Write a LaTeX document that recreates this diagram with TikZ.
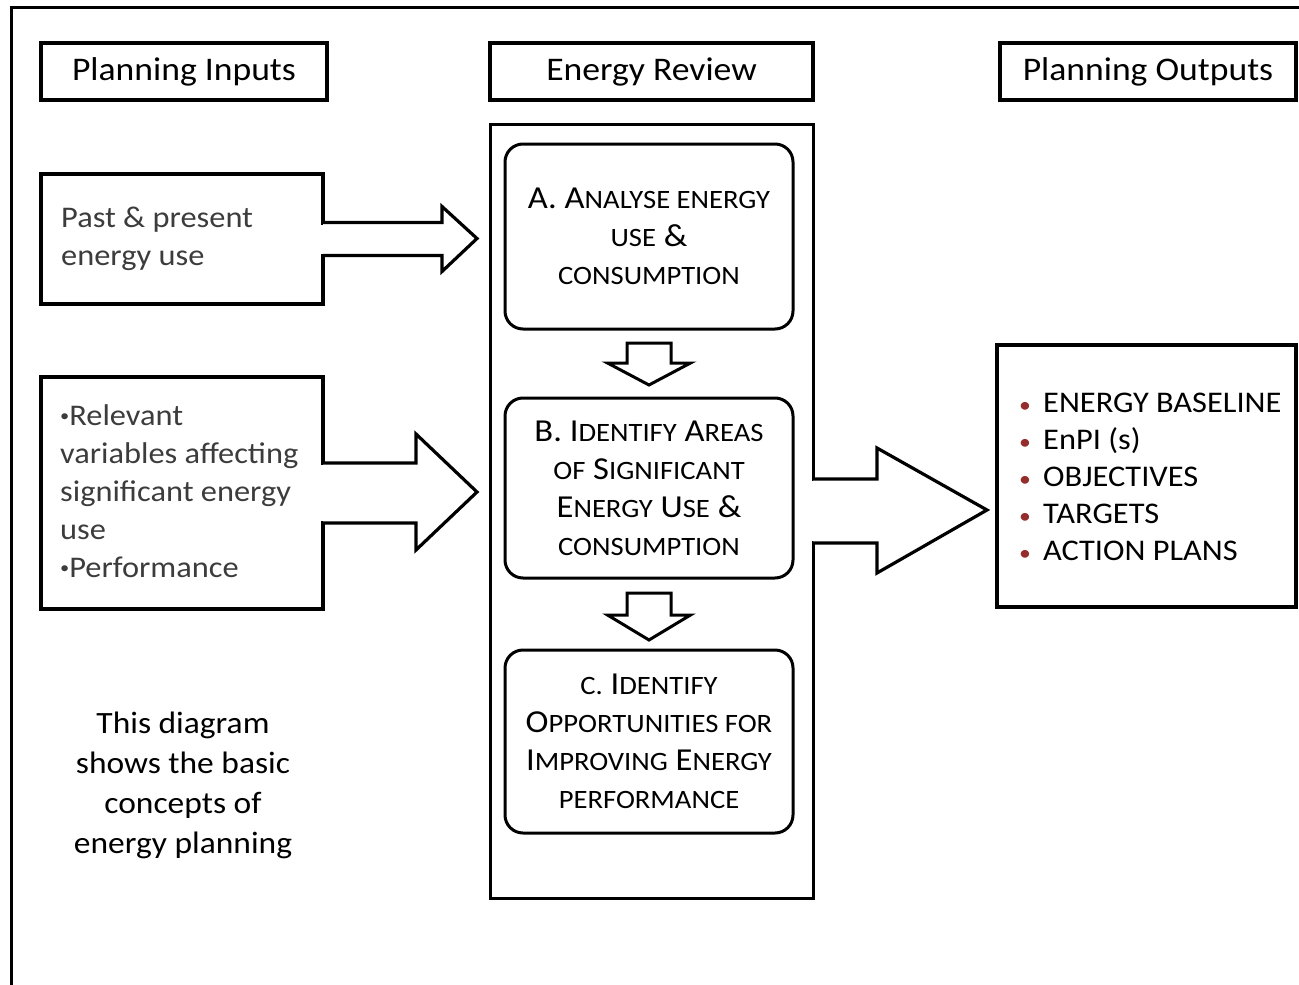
\documentclass[tikz,border=0pt]{standalone}
\usepackage{fontspec}
\setmainfont{Carlito}[FakeStretch=1.08]
\usetikzlibrary{calc}
\definecolor{intext}{RGB}{60,60,60}
\definecolor{bred}{RGB}{150,45,45}
\newcommand\smc[1]{{\fontsize{26.5}{38}\selectfont #1}}
\newcommand\sdot{\raisebox{4pt}{\fontsize{17}{38}\selectfont •}}
\newcommand\rdot{\makebox[26pt][l]{\hspace{2pt}\textcolor{bred}{\fontsize{22}{37}\selectfont •}}}
\begin{document}
\begin{tikzpicture}[x=1pt,y=-1pt,
  frame/.style={line width=3pt},
  hdr/.style={draw,line width=3.5pt,outer sep=0pt,inner sep=0pt,minimum height=57,font=\fontsize{33}{40}\selectfont},
  cont/.style={draw,line width=3pt,outer sep=0pt,inner sep=0pt},
  stepbox/.style={draw,line width=3pt,rounded corners=18pt,outer sep=0pt,inner sep=0pt,minimum width=288,align=center,font=\fontsize{32}{38}\selectfont},
  inbox/.style={draw,line width=3.5pt,outer sep=0pt,inner sep=0pt,minimum width=282},
  intxt/.style={anchor=west,align=left,inner sep=0pt,text=intext,font=\fontsize{30}{38}\selectfont},
  outbox/.style={draw,line width=3.5pt,outer sep=0pt,inner sep=0pt},
  blk/.style={line width=3.2pt,line join=miter,fill=white},
  dnarrow/.style={line width=3pt,line join=miter,fill=white}
]
\useasboundingbox (0,0) rectangle (1299,985);
\draw[frame] (11,990) -- (11,7) -- (1305,7);

% headers
\node[hdr, minimum width=286] (hin) at (184,71.5) {Planning Inputs};
\node[hdr, minimum width=323] (hrev) at (651.5,71.5) {Energy Review};
\node[hdr, minimum width=296] (hout) at (1148,71.5) {Planning Outputs};

% container and steps
\node[cont, minimum width=323, minimum height=774] (rev) at (651.5,511) {};
\node[stepbox, minimum height=185] (A) at (649,236.5)
  {A. A\smc{NALYSE ENERGY}\\ \smc{USE} \&\\ \smc{CONSUMPTION}};
\node[stepbox, minimum height=180] (B) at (649,488)
  {B. I\smc{DENTIFY} A\smc{REAS}\\ \smc{OF} S\smc{IGNIFICANT}\\ E\smc{NERGY} U\smc{SE} \&\\ \smc{CONSUMPTION}};
\node[stepbox, minimum height=183] (C) at (649,741.5)
  {\smc{C.} I\smc{DENTIFY}\\ O\smc{PPORTUNITIES FOR}\\ I\smc{MPROVING} E\smc{NERGY}\\ \smc{PERFORMANCE}};

% down arrows
\draw[dnarrow] ($(A.south)+(-22,14)$) -- ++(44,0) -- ++(0,20) -- ++(19.5,0)
  -- ($(A.south)+(0,56)$) -- ($(A.south)+(-41.5,34)$) -- ++(19.5,0) -- cycle;
\draw[dnarrow] ($(B.south)+(-22,15)$) -- ++(44,0) -- ++(0,22) -- ++(19.5,0)
  -- ($(B.south)+(0,62)$) -- ($(B.south)+(-41.5,37)$) -- ++(19.5,0) -- cycle;

% inputs
\node[inbox, minimum height=130] (past) at (182,239) {};
\node[intxt] (pasttxt) at (61,239) {Past \& present\\energy use};
\node[inbox, minimum height=232] (rel) at (182,493) {};
\node[intxt] (reltxt) at (60,491) {\sdot Relevant\\variables affecting\\significant energy\\use\\\sdot Performance};

% outputs
\node[outbox, minimum width=299, minimum height=262] (out) at (1146.5,476) {};
\node[anchor=west,align=left,inner sep=0pt,font=\fontsize{30}{37}\selectfont] (outtxt) at (1017,477)
  {\rdot ENERGY BASELINE\\
   \rdot EnPI (s)\\
   \rdot OBJECTIVES\\
   \rdot TARGETS\\
   \rdot ACTION PLANS};

% note
\node[align=center,inner sep=0pt,font=\fontsize{31}{40}\selectfont] (note) at (183,785)
  {This diagram\\shows the basic\\concepts of\\energy planning};

% block arrows (merged with box edges)
\fill[white] ($(past.east)+(-2.5,-14.5)$) rectangle ($(past.east)+(2.5,14.5)$);
\draw[blk] ($(past.east)+(0,-16.5)$) -- ++(119,0) -- ++(0,-16)
  -- ($(past.east)+(154,-0.5)$) -- ($(past.east)+(119,32.5)$) -- ++(0,-16) -- ($(past.east)+(0,16.5)$);

\fill[white] ($(rel.east)+(-2.5,-28)$) rectangle ($(rel.east)+(2.5,28)$);
\draw[blk] ($(rel.east)+(0,-30)$) -- ++(93,0) -- ++(0,-29)
  -- ($(rel.east)+(154,-1)$) -- ($(rel.east)+(93,57)$) -- ++(0,-27) -- ($(rel.east)+(0,30)$);

\fill[white] ($(rev.east)+(-2.5,-30)$) rectangle ($(rev.east)+(2.5,30)$);
\draw[blk] ($(rev.east)+(0,-32)$) -- ++(64,0) -- ++(0,-31)
  -- ($(rev.east)+(174,-1)$) -- ($(rev.east)+(64,62)$) -- ++(0,-30) -- ($(rev.east)+(0,32)$);
\end{tikzpicture}
\end{document}
